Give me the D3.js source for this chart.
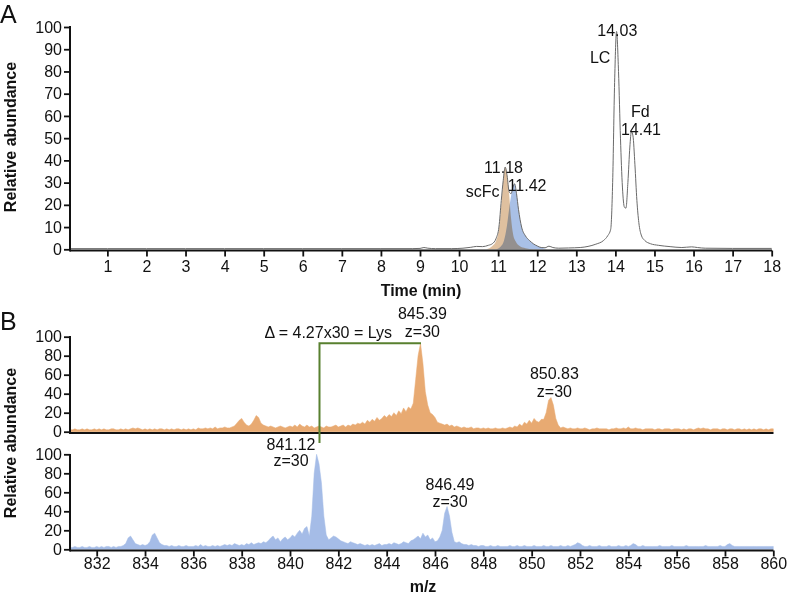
<!DOCTYPE html>
<html><head><meta charset="utf-8">
<script src="https://cdn.jsdelivr.net/npm/d3@7/dist/d3.min.js"></script>
<style>
body{margin:0;background:#fff}
svg{display:block}
text{font-family:"Liberation Sans",Arial,Helvetica,sans-serif;fill:#111}
</style>
</head><body>
<svg id="c" width="787" height="594"></svg>
<script>
// ---------------- DATA ----------------
// Panel A: total ion chromatogram (time in min, relative abundance)
const chromTime = [0.05,1,2,3,4,5,6,7,8,8.8,9.0,9.1,9.2,9.4,9.8,10.1,10.3,10.45,10.6,10.75,10.85,10.95,11.02,11.08,11.13,11.18,11.23,11.28,11.33,11.38,11.42,11.47,11.52,11.6,11.7,11.8,11.9,12.0,12.1,12.2,12.3,12.4,12.55,12.8,13.1,13.3,13.5,13.7,13.8,13.88,13.93,13.98,14.03,14.08,14.13,14.18,14.23,14.27,14.32,14.37,14.41,14.45,14.5,14.55,14.6,14.67,14.75,14.9,15.1,15.4,15.7,15.95,16.1,16.3,17,18];
const chromTotal = [0.3,0.3,0.3,0.3,0.3,0.3,0.3,0.3,0.3,0.3,0.4,0.8,0.5,0.3,0.3,0.5,0.9,1.3,1.2,1.8,2.5,5,10,22,31,37,33,26,25,28,29.5,25,18,10,6,4,2.5,1.5,0.8,0.7,1.4,0.8,0.5,0.6,0.8,1.3,2.3,4,6,9,30,75,98,80,50,28,19,18.5,30,46,53,51,38,22,12,6,4,2.5,1.8,1.2,0.8,1.1,0.8,0.5,0.4,0.4];
// scFc species extracted traces
const orangeTime = [10.7,10.85,10.95,11.02,11.08,11.13,11.18,11.23,11.28,11.33,11.38,11.45,11.55,11.7,11.9];
const orangeVals = [0,1.5,4,9,20,31,37,33,25,14,7,3.5,1.5,0.5,0];
const blueTime = [10.95,11.05,11.15,11.22,11.28,11.33,11.38,11.42,11.47,11.52,11.6,11.7,11.8,11.9,12.0,12.1,12.25];
const blueVals = [0,1,4,10,18,24,28,29.5,25,18,10,6,4,2.5,1.5,0.8,0];
const timeTicks = [1,2,3,4,5,6,7,8,9,10,11,12,13,14,15,16,17,18];
const abundTicksA = [0,10,20,30,40,50,60,70,80,90,100];
const peakLabelsA = [
  {text:"11.18", t:11.137, v:34.3},
  {text:"scFc",  t:10.6,   v:23.5},
  {text:"11.42", t:11.74,  v:26.2},
  {text:"14.03", t:14.05,  v:96},
  {text:"LC",    t:13.61,  v:83.8},
  {text:"Fd",    t:14.64,  v:59.5},
  {text:"14.41", t:14.655, v:51.4}
];

// Panel B: mass spectra, m/z grid from 830.9 step 0.1
const mzStart = 830.9, mzStep = 0.1;
const orangeSpectrum = [2,
 2,3,2,2,3,2,3,2,2,3,
 2,3,2,3,2,2,3,3,2,2,
 3,2,3,2,3,4,3,4,3,2,
 3,2,3,2,3,2,3,3,2,3,
 2,3,2,3,3,2,3,2,3,2,
 3,2,4,3,3,4,3,4,3,5,
 3,4,4,5,4,4,5,6,9,12,
 14,10,7,6,8,12,17,15,9,7,
 6,5,6,5,4,5,6,5,4,5,
 6,5,7,5,8,6,5,7,5,6,
 4,5,6,5,4,6,5,5,6,7,
 5,6,7,5,7,6,8,7,9,8,
 10,8,12,10,13,11,15,12,14,17,
 15,18,16,20,17,22,19,25,21,26,
 24,30,55,80,93,72,42,28,20,18,
 15,10,9,8,7,8,6,7,5,6,
 5,4,5,4,4,5,3,4,4,3,
 4,3,4,3,3,4,3,3,4,3,
 4,5,4,6,5,8,6,10,8,12,
 9,14,11,10,13,13,20,33,36,28,
 14,7,4,5,4,3,4,3,3,4,
 3,3,4,3,2,3,3,4,3,3,
 3,3,2,3,3,4,3,3,4,3,
 5,3,3,4,3,3,2,3,3,3,
 3,2,3,3,2,3,3,3,2,3,
 3,3,2,3,2,3,3,2,3,4,
 3,4,3,3,2,3,3,3,2,3,
 3,2,3,3,2,3,3,2,3,2,
 3,2,3,2,3,3,2,3,2,3,
 3];
const blueSpectrum = [2,
 2,3,2,2,3,2,2,3,2,2,
 3,2,3,2,3,3,2,3,2,3,
 3,4,6,12,14,10,6,5,4,5,
 4,5,8,15,17,12,7,5,4,4,
 3,4,3,3,4,3,3,4,3,3,
 3,4,3,5,3,4,3,3,4,3,
 4,3,4,5,4,5,4,6,5,4,
 5,4,6,5,7,5,6,7,6,8,
 7,9,12,14,10,12,8,11,13,10,
 12,15,13,17,20,16,22,24,14,35,
 80,100,90,70,35,15,10,12,14,13,
 11,9,8,7,6,8,7,6,5,6,
 5,4,5,4,5,4,5,6,4,5,
 5,6,5,7,6,5,6,8,7,6,
 9,10,12,14,11,17,13,15,10,12,
 8,9,13,20,38,45,35,18,8,7,
 8,6,5,5,4,5,4,4,3,4,
 4,3,3,4,3,3,4,3,3,3,
 3,4,3,3,4,3,3,4,3,3,
 3,4,3,3,3,4,3,3,4,3,
 3,3,4,3,3,4,3,4,5,7,
 6,4,3,3,4,3,3,3,4,3,
 3,3,4,3,3,3,4,3,3,4,
 3,4,6,5,3,3,4,3,3,3,
 3,3,3,4,3,3,3,3,4,3,
 3,3,3,3,4,3,3,3,3,3,
 3,3,4,3,3,3,3,3,4,3,
 3,5,6,4,3,3,3,3,3,3,
 3,3,3,3,3,3,3,3,3,3,
 3];
const mzTicks = [832,834,836,838,840,842,844,846,848,850,852,854,856,858,860];
const abundTicksB = [0,20,40,60,80,100];
const lysBracket = {from:841.22, to:845.42, level:93, bottom:-12};
const topLabelsB = [
  {text:"Δ = 4.27x30 = Lys", mz:844.22, v:98.3, anchor:"end"},
  {text:"845.39", mz:845.48, v:118.2},
  {text:"z=30",   mz:845.48, v:100},
  {text:"850.83", mz:850.94, v:55},
  {text:"z=30",   mz:850.94, v:36.8}
];
const bottomLabelsB = [
  {text:"841.12", mz:840.04, v:105},
  {text:"z=30",   mz:840.04, v:87.7},
  {text:"846.49", mz:846.62, v:62},
  {text:"z=30",   mz:846.62, v:44.5}
];

// ---------------- DRAWING ----------------
const svg = d3.select("#c");
const FS = "16px";
const colOrangeA = "#dfc09f", colBlueA = "#a9c0e6";
const colOrangeB = "#e8aa72", colBlueB = "#a5bce7";

// Panel A scales
const xA = d3.scaleLinear().domain([0,18]).range([68.3,771.7]);
const yA = d3.scaleLinear().domain([0,100]).range([249.3,27]);

const zipA = (ts,vs)=>ts.map((t,i)=>({t, v:vs[i]}));
const areaA = d3.area().x(d=>xA(d.t)).y0(yA(0)).y1(d=>yA(d.v)).curve(d3.curveMonotoneX);
const lineA = d3.line().x(d=>xA(d.t)).y(d=>yA(d.v)).curve(d3.curveMonotoneX);

const gA = svg.append("g");
gA.append("path").datum(zipA(orangeTime,orangeVals)).attr("d",areaA).attr("fill",colOrangeA);
gA.append("path").datum(zipA(blueTime,blueVals)).attr("d",areaA).attr("fill",colBlueA).style("mix-blend-mode","multiply");
gA.append("path").datum(zipA(chromTime,chromTotal)).attr("d",lineA).attr("fill","none").attr("stroke","#6a6a6a").attr("stroke-width",1);

function styleAxis(g, lw){
  g.select(".domain").remove();
  g.selectAll(".tick line").attr("stroke","#111").attr("stroke-width",lw||1.8);
  g.selectAll(".tick text").style("font-size",FS).attr("fill","#111");
}

// Axes A
const axA = svg.append("g").attr("transform","translate(0,250.5)")
  .call(d3.axisBottom(xA).tickValues(timeTicks).tickFormat(d3.format("d")).tickSize(6).tickPadding(4));
styleAxis(axA);
const ayA = svg.append("g").attr("transform","translate(70,0)")
  .call(d3.axisLeft(yA).tickValues(abundTicksA).tickSize(6).tickPadding(2));
styleAxis(ayA);
svg.append("line").attr("x1",70).attr("x2",772).attr("y1",250.5).attr("y2",250.5).attr("stroke","#111").attr("stroke-width",2);
svg.append("line").attr("x1",70).attr("x2",70).attr("y1",26).attr("y2",251.5).attr("stroke","#111").attr("stroke-width",2);

gA.selectAll("text.pl").data(peakLabelsA).join("text").attr("class","pl")
  .attr("x",d=>xA(d.t)).attr("y",d=>yA(d.v)).attr("text-anchor","middle").style("font-size",FS).text(d=>d.text);

svg.append("text").attr("x",0).attr("y",23).style("font-size","25px").text("A");
svg.append("text").attr("x",421).attr("y",296).attr("text-anchor","middle").style("font-size","16px").style("font-weight","bold").text("Time (min)");
svg.append("text").attr("transform","translate(16,137) rotate(-90)").attr("text-anchor","middle").style("font-size","16px").style("font-weight","bold").text("Relative abundance");

// Panel B scales
const xB = d3.scaleLinear().domain([832,860]).range([96.7,773.3]);
const yBT = d3.scaleLinear().domain([0,100]).range([431.7,336.7]);
const yBB = d3.scaleLinear().domain([0,100]).range([549.3,454.3]);
const specPts = arr => arr.map((v,i)=>({mz: mzStart + i*mzStep, v}));

svg.append("path").datum(specPts(orangeSpectrum))
  .attr("d", d3.area().x(d=>xB(d.mz)).y0(yBT(0)).y1(d=>yBT(d.v)))
  .attr("fill",colOrangeB).attr("stroke",colOrangeB).attr("stroke-width",0.5);
svg.append("path").datum(specPts(blueSpectrum))
  .attr("d", d3.area().x(d=>xB(d.mz)).y0(yBB(0)).y1(d=>yBB(d.v)))
  .attr("fill",colBlueB).attr("stroke",colBlueB).attr("stroke-width",0.5);

// axes B
const ayBT = svg.append("g").attr("transform","translate(70,0)")
  .call(d3.axisLeft(yBT).tickValues(abundTicksB).tickSize(6).tickPadding(2));
styleAxis(ayBT);
const ayBB = svg.append("g").attr("transform","translate(70,0)")
  .call(d3.axisLeft(yBB).tickValues(abundTicksB).tickSize(6).tickPadding(2));
styleAxis(ayBB);
const axBB = svg.append("g").attr("transform","translate(0,550.5)")
  .call(d3.axisBottom(xB).tickValues(mzTicks).tickFormat(d3.format("d")).tickSize(6).tickPadding(1));
styleAxis(axBB);
[[433,336],[550.5,454]].forEach(([yb,yt])=>{
  svg.append("line").attr("x1",70).attr("x2",773.5).attr("y1",yb).attr("y2",yb).attr("stroke","#111").attr("stroke-width",2);
  svg.append("line").attr("x1",70).attr("x2",70).attr("y1",yt).attr("y2",yb+1).attr("stroke","#111").attr("stroke-width",2);
});

// Lys bracket
const green = "#58802f";
svg.append("path")
  .attr("d", `M${xB(lysBracket.to)},${yBT(lysBracket.level)}H${xB(lysBracket.from)}V${yBT(lysBracket.bottom)}`)
  .attr("fill","none").attr("stroke",green).attr("stroke-width",2);

svg.selectAll("text.tb").data(topLabelsB).join("text").attr("class","tb")
  .attr("x",d=>xB(d.mz)).attr("y",d=>yBT(d.v)).attr("text-anchor",d=>d.anchor||"middle").style("font-size",FS).text(d=>d.text);
svg.selectAll("text.bb").data(bottomLabelsB).join("text").attr("class","bb")
  .attr("x",d=>xB(d.mz)).attr("y",d=>yBB(d.v)).attr("text-anchor","middle").style("font-size",FS).text(d=>d.text);

svg.append("text").attr("x",0).attr("y",330).style("font-size","25px").text("B");
svg.append("text").attr("x",423).attr("y",592).attr("text-anchor","middle").style("font-size","16px").style("font-weight","bold").text("m/z");
svg.append("text").attr("transform","translate(16,443) rotate(-90)").attr("text-anchor","middle").style("font-size","16px").style("font-weight","bold").text("Relative abundance");
</script>
</body></html>
